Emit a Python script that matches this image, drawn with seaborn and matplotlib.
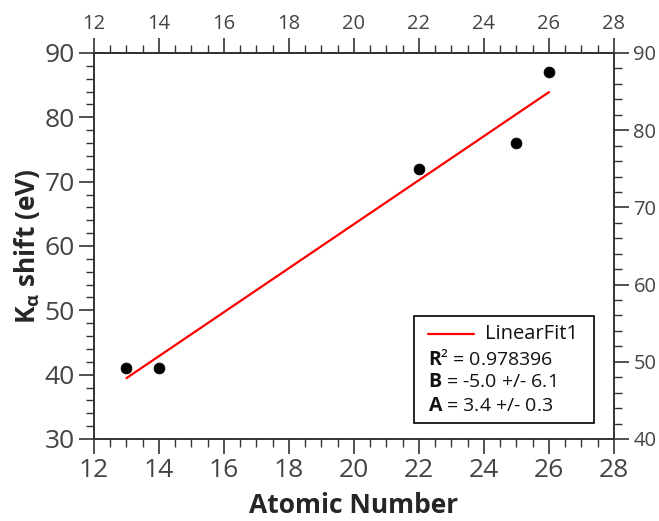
import numpy as np
import pandas as pd
import matplotlib
matplotlib.use("Agg")
import matplotlib.pyplot as plt
import seaborn as sns
from matplotlib.ticker import MultipleLocator
from matplotlib.patches import Rectangle
from matplotlib.lines import Line2D

atomic_number = [13, 14, 22, 25, 26]
ka_shift = [41, 41, 72, 76, 87]
fit_label = "LinearFit1"
stats_lines = [r"$\mathbf{R}$² = 0.978396",
               r"$\mathbf{B}$ = -5.0 +/- 6.1",
               r"$\mathbf{A}$ = 3.4 +/- 0.3"]

sns.set_style("white")
plt.rcParams['font.family'] = ['Open Sans', 'DejaVu Sans']
plt.rcParams['mathtext.fontset'] = 'custom'
plt.rcParams['mathtext.rm'] = 'Open Sans'
plt.rcParams['mathtext.bf'] = 'Open Sans:bold'

df = pd.DataFrame({"x": atomic_number, "y": ka_shift})

fig = plt.figure(figsize=(6.59, 5.21), dpi=100)
ax = fig.add_axes([0.1426, 0.1574, 0.7891, 0.7409])

sns.regplot(data=df, x="x", y="y", ax=ax, ci=None, scatter=False,
            line_kws=dict(color="#ff0000", lw=1.6))
sns.scatterplot(data=df, x="x", y="y", ax=ax, color="black", s=60,
                edgecolor="black", zorder=5)

ax.set_xlim(12, 28)
ax.set_ylim(30, 90)
ax.xaxis.set_major_locator(MultipleLocator(2))
ax.xaxis.set_minor_locator(MultipleLocator(0.5))
ax.yaxis.set_major_locator(MultipleLocator(10))
ax.yaxis.set_minor_locator(MultipleLocator(2))

spine_c = "#333333"
lab_c = "#444444"
for s in ax.spines.values():
    s.set_color(spine_c)
    s.set_linewidth(1.2)

ax.tick_params(which="major", direction="out", length=11, width=1.2,
               color=spine_c, labelsize=19, labelcolor=lab_c, pad=3)
ax.tick_params(which="minor", direction="out", length=6, width=1.0,
               color=spine_c)
ax.tick_params(axis="both", which="both", bottom=True, left=True)

ax.set_xlabel("Atomic Number", fontsize=19, fontweight="bold", labelpad=6)
ax.set_ylabel(r"K$_\mathbf{\alpha}$ shift (eV)", fontsize=19, fontweight="bold", labelpad=2)

# top axis
axt = ax.secondary_xaxis("top")
axt.set_xticks(np.arange(12, 29, 2))
axt.xaxis.set_minor_locator(MultipleLocator(0.5))
axt.tick_params(which="major", direction="out", length=11, width=1.2,
                color=spine_c, labelsize=14.5, labelcolor=lab_c, pad=3)
axt.tick_params(which="minor", direction="out", length=6, width=1.0, color=spine_c)
axt.spines["top"].set_color(spine_c)
axt.spines["top"].set_linewidth(1.2)

# right axis with independent range 40-90
axr = ax.twinx()
axr.set_ylim(40, 90)
axr.yaxis.set_major_locator(MultipleLocator(10))
axr.yaxis.set_minor_locator(MultipleLocator(2))
axr.tick_params(which="major", direction="out", length=11, width=1.2,
                color=spine_c, labelsize=14.5, labelcolor=lab_c, right=True, pad=3)
axr.tick_params(which="minor", direction="out", length=6, width=1.0,
                color=spine_c, right=True)
for s in axr.spines.values():
    s.set_color(spine_c)
    s.set_linewidth(1.2)
axr.grid(False)
ax.grid(False)

# legend box
ax.add_patch(Rectangle((0.615, 0.0415), 0.3465, 0.2772, transform=ax.transAxes,
                       facecolor="white", edgecolor="black", lw=1.2, zorder=6))
ax.add_line(Line2D([0.642, 0.731], [0.272, 0.272], transform=ax.transAxes,
                   color="#ff0000", lw=1.6, zorder=7))
ax.text(0.752, 0.272, fit_label, transform=ax.transAxes, fontsize=14.5,
        va="center", ha="left", color="#111111", zorder=7)
for yy, t in zip([0.207, 0.148, 0.0855], stats_lines):
    ax.text(0.642, yy, t, transform=ax.transAxes, fontsize=14,
            va="center", ha="left", color="#111111", zorder=7)

fig.savefig("out.png", dpi=100)
